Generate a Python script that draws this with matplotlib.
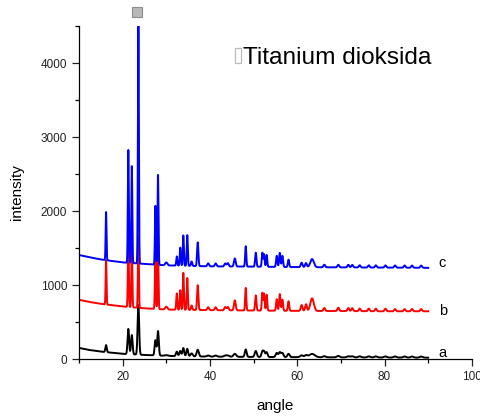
import numpy as np
import matplotlib
matplotlib.use("Agg")
import matplotlib.pyplot as plt
from matplotlib.patches import Rectangle
from matplotlib.ticker import MultipleLocator

# ---- data (angle in deg 2-theta, intensity in counts)

# background anchor points for each pattern
base_angle = [10, 12, 15, 20, 25, 30, 40, 50, 60, 70, 80, 90]
base_a = [150, 125, 100, 70, 55, 42, 32, 28, 25, 22, 20, 18]
base_b = [800, 775, 745, 710, 685, 668, 660, 655, 650, 648, 645, 645]
base_c = [1405, 1380, 1345, 1305, 1285, 1265, 1252, 1248, 1242, 1238, 1235, 1232]

# peak positions shared by the three patterns
peak_angle = [16.2, 21.3, 22.1, 23.6, 27.5, 28.1, 30.0, 32.4, 33.2, 33.9,
              34.8, 35.8, 37.2, 39.6, 41.3, 43.5, 44.1, 45.7, 48.2, 50.5,
              52.0, 52.4, 53.0, 55.3, 56.0, 56.6, 58.0, 61.0, 62.0, 63.4,
              66.2, 69.4, 71.7, 72.6, 74.3, 76.4, 78.0, 80.2, 82.4, 84.6,
              86.3, 88.4]
# peak heights above background
peak_a = [95, 340, 260, 670, 205, 330, 10, 60, 70, 110,
          100, 40, 90, 15, 15, 15, 15, 40, 100, 80,
          70, 70, 65, 55, 65, 55, 45, 25, 25, 45,
          15, 20, 15, 15, 15, 15, 15, 15, 15, 15,
          15, 15]
peak_b = [600, 900, 850, 950, 750, 780, 40, 220, 265, 500,
          430, 60, 335, 40, 40, 45, 45, 135, 305, 205,
          240, 230, 215, 155, 225, 150, 130, 80, 90, 170,
          40, 45, 40, 40, 35, 35, 35, 35, 30, 30,
          30, 30]
peak_c = [650, 1525, 1310, 3230, 795, 1215, 40, 125, 245, 410,
          415, 60, 320, 40, 40, 40, 45, 110, 275, 190,
          190, 170, 160, 150, 190, 150, 100, 60, 55, 110,
          35, 35, 35, 35, 30, 30, 30, 30, 30, 30,
          30, 30]
# peak widths (gaussian sigma, deg)
peak_w = [0.10, 0.11, 0.11, 0.11, 0.11, 0.11, 0.25, 0.12, 0.12, 0.12,
          0.12, 0.15, 0.15, 0.2, 0.2, 0.2, 0.2, 0.2, 0.13, 0.15,
          0.13, 0.13, 0.13, 0.15, 0.15, 0.15, 0.15, 0.2, 0.2, 0.4,
          0.2, 0.2, 0.2, 0.2, 0.2, 0.2, 0.2, 0.2, 0.2, 0.2,
          0.2, 0.2]

labels = ["a", "b", "c"]
label_y = [85, 653, 1293]
title = "Titanium dioksida"


def pattern(x, base, heights, broaden=1.0):
    """Build a diffraction pattern from the background and the peak list."""
    y = np.interp(x, base_angle, base)
    for pos, h, w in zip(peak_angle, heights, peak_w):
        y = y + h * np.exp(-0.5 * ((x - pos) / (w * broaden)) ** 2)
    return y


x = np.linspace(10, 90, 4001)

plt.rcParams['font.family'] = ['Liberation Sans', 'DejaVu Sans']

fig = plt.figure(figsize=(4.8, 4.16), dpi=100)
ax = fig.add_axes([0.1646, 0.137, 0.8184, 0.8005])

ax.plot(x, pattern(x, base_a, peak_a, 1.6), color='black', lw=1.4)
ax.plot(x, pattern(x, base_b, peak_b), color='#ff0000', lw=1.4)
ax.plot(x, pattern(x, base_c, peak_c), color='#0000ff', lw=1.4)

ax.set_xlim(10, 100)
ax.set_ylim(0, 4500)
ax.xaxis.set_major_locator(MultipleLocator(20))
ax.xaxis.set_minor_locator(MultipleLocator(10))
ax.yaxis.set_major_locator(MultipleLocator(1000))
ax.yaxis.set_minor_locator(MultipleLocator(500))
ax.tick_params(which='major', length=5, width=0.9, labelsize=8.5,
               colors='#222222')
ax.tick_params(which='minor', length=3, width=0.9)
for side in ['top', 'right']:
    ax.spines[side].set_visible(False)
for side in ['left', 'bottom']:
    ax.spines[side].set_linewidth(0.9)

ax.set_xlabel("angle", fontsize=11, labelpad=12)
ax.set_ylabel("intensity", fontsize=11, labelpad=12)

for lab, ly in zip(labels, label_y):
    ax.text(92.4, ly, lab, fontsize=10.5, ha='left', va='center')

# title with the missing glyph box in front
ax.text(0.4173, 0.887, title, transform=ax.transAxes, fontsize=17.6,
        ha='left', va='baseline')
ax.add_patch(Rectangle((0.397, 0.889), 0.0153, 0.045, transform=ax.transAxes,
                       fill=False, edgecolor='#bdbdbd', lw=0.9,
                       clip_on=False))

# grey square marker above the main peak
ax.plot([23.4], [4690], marker='s', ms=7, color='#b8b8b8',
        markeredgecolor='#8c8c8c', mew=0.8, clip_on=False)

plt.savefig("out.png", dpi=100)
